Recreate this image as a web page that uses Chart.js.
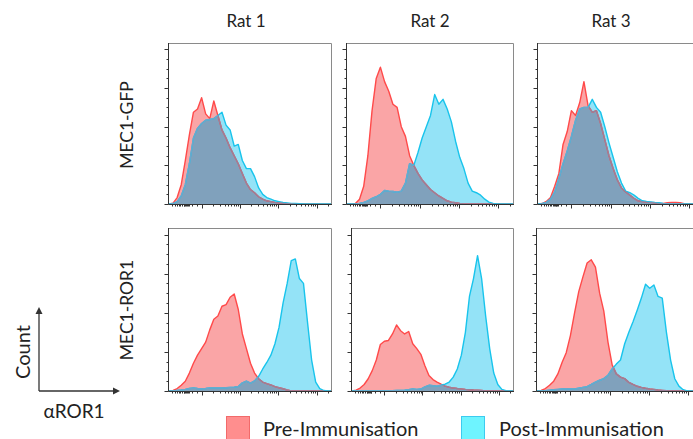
<!DOCTYPE html>
<html>
<head>
<meta charset="utf-8">
<title>αROR1 – MEC1 histograms</title>
<script src="https://cdn.jsdelivr.net/npm/chart.js"></script>
<style>
  body { margin:0; width:693px; height:439px; overflow:hidden; background:#fff; position:relative;
         font-family: Lato, "Open Sans", sans-serif; color:#222; }
  .panel { position:absolute; }
  .lbl { position:absolute; white-space:nowrap; line-height:1; transform:translate(-50%,-50%); }
  .rot { transform:translate(-50%,-50%) rotate(-90deg); }
  .title { font-size:17px; }
  .row { font-size:17.5px; }
  .swatch { position:absolute; width:22px; height:22px; border:1px solid; }
  .legend-text { position:absolute; font-size:20px; line-height:1; }
</style>
</head>
<body>
<!-- column + row titles -->
<div class="lbl title" style="left:246px;top:20px">Rat 1</div>
<div class="lbl title" style="left:430px;top:20px">Rat 2</div>
<div class="lbl title" style="left:611px;top:20px">Rat 3</div>
<div class="lbl row rot" style="left:127px;top:125px">MEC1-GFP</div>
<div class="lbl row rot" style="left:127px;top:310px">MEC1-ROR1</div>

<!-- axis key -->
<svg style="position:absolute;left:0;top:0" width="160" height="439">
  <g stroke="#333" stroke-width="1.3" fill="none">
    <line x1="39" y1="391" x2="39" y2="313"/>
    <line x1="39" y1="391" x2="114" y2="391"/>
  </g>
  <polygon points="39,307 35.5,314 42.5,314" fill="#333"/>
  <polygon points="120,391 113,387.5 113,394.5" fill="#333"/>
</svg>
<div class="lbl rot" style="left:22px;top:352px;font-size:20px">Count</div>
<div class="lbl" style="left:74px;top:410px;font-size:19px">αROR1</div>

<!-- legend -->
<div class="swatch" style="left:226px;top:416px;background:#ff8e8e;border-color:#f26a6a"></div>
<div class="legend-text" style="left:263px;top:418px">Pre-Immunisation</div>
<div class="swatch" style="left:461px;top:416px;background:#6ef4ff;border-color:#3ccbef"></div>
<div class="legend-text" style="left:499px;top:418px">Post-Immunisation</div>

<canvas id="p1" class="panel"></canvas>
<canvas id="p2" class="panel"></canvas>
<canvas id="p3" class="panel"></canvas>
<canvas id="p4" class="panel"></canvas>
<canvas id="p5" class="panel"></canvas>
<canvas id="p6" class="panel"></canvas>

<script>
// channel position along the αROR1 axis (0-100 % of the axis)
const xBins = [0, 2.5, 5, 7.5, 10, 12.5, 15, 17.5, 20, 22.5, 25, 27.5, 30, 32.5, 35, 37.5, 40, 42.5, 45, 47.5,
               50, 52.5, 55, 57.5, 60, 62.5, 65, 67.5, 70, 72.5, 75, 77.5, 80, 82.5, 85, 87.5, 90, 92.5, 95, 97.5, 100];

// counts, % of each panel's y range
const gfpRat1Pre  = [0, 0.5, 4, 12, 27, 43, 57, 59, 66, 56, 53, 64, 55, 46, 41, 35, 30, 25, 19, 13,
                     9, 7, 4.5, 3, 2, 1.5, 1, 0.7, 0.5, 0.3, 0.2, 0, 0, 0, 0, 0, 0, 0, 0, 0, 0];
const gfpRat1Post = [0, 0.3, 1.5, 5, 12, 25, 41, 47, 50, 52, 52.5, 53, 55, 57, 49, 46, 36, 37, 27, 22,
                     22, 17, 10, 6, 4, 3, 2, 1.5, 1, 0.7, 0.4, 0.3, 0.2, 0, 0, 0, 0, 0, 0, 0, 0];
const gfpRat2Pre  = [0, 0, 0.3, 3, 11, 30, 58, 78, 85, 76, 70, 62, 60, 48, 42, 30, 24, 19, 15, 12,
                     9, 7, 5, 3.5, 2, 1.2, 0.8, 0.3, 0, 0, 0, 0, 0, 0, 0, 0, 0, 0, 0, 0, 0];
const gfpRat2Post = [0, 0, 0, 0.3, 1, 2, 3.5, 4.5, 6, 8.4, 8, 7.8, 7.3, 8, 13, 25, 24, 32, 41, 48,
                     55, 68, 62, 65, 59, 51, 39, 29, 22, 13, 8, 7, 5.5, 3, 1.2, 0.3, 0, 0, 0, 0, 0];
const gfpRat3Pre  = [0, 0.3, 1.6, 4, 11, 19, 37, 45, 58, 55, 63, 76, 61, 57, 58, 50, 40, 30, 22, 15,
                     10, 7.5, 5.5, 3.5, 2, 1.5, 1.2, 1, 0.8, 0.5, 0.3, 0.8, 1, 1, 0.8, 0.2, 0, 0, 0, 0, 0];
const gfpRat3Post = [0, 0.3, 1, 3, 7.5, 16, 25, 33, 42, 52, 59, 60, 60, 65, 60, 57, 48, 38, 29, 20,
                     13, 8, 7, 5.5, 3.5, 2, 1.6, 1.3, 1, 0.8, 0.3, 0, 0, 0, 0, 0, 0, 0, 0, 0, 0];
const rorRat1Pre  = [0, 0.4, 1.5, 3.5, 6, 11, 17, 22, 26, 30, 37.5, 44, 46, 52, 53, 57.5, 59.5, 50, 35, 26,
                     17, 11, 7.5, 5.5, 4.5, 3.7, 2.7, 2, 1.4, 0.6, 0, 0, 0, 0, 0, 0, 0, 0, 0, 0, 0];
const rorRat1Post = [0, 0, 0.3, 0.6, 1, 1.5, 1.8, 1.5, 1.3, 1.5, 1.8, 1.8, 1.8, 1.8, 2, 2.2, 2.4, 2.8, 5, 6,
                     4.8, 6.2, 9, 13.5, 17.5, 22, 29, 39, 54, 66, 80, 81, 69, 66, 42, 19, 5.5, 1.5, 0.3, 0, 0];
const rorRat2Pre  = [0, 0.5, 1.8, 4, 7.5, 12.5, 19, 28.5, 30.5, 31, 35, 40.5, 37, 35, 36.5, 29, 26, 22.5, 15.5, 9.5,
                     7, 5.5, 4.2, 3, 2.3, 1.8, 1.5, 1.3, 1, 0.8, 0.6, 0.5, 0.3, 0, 0, 0, 0, 0, 0, 0, 0];
const rorRat2Post = [0, 0, 0, 0, 0, 0, 0, 0, 0, 0, 0.2, 0.3, 0.3, 0.5, 0.8, 1.2, 1, 1.2, 2.5, 3.5,
                     3.3, 3, 3.5, 4.2, 5.5, 8.5, 13.5, 22, 36, 58, 69, 83, 69, 46, 26, 11, 4, 1, 0.2, 0, 0];
const rorRat3Pre  = [0, 0.4, 1.5, 3.5, 6, 10.5, 17.5, 23.5, 34, 48, 61, 70, 78.5, 80.5, 76, 60, 49, 30, 16, 10.5,
                     8.5, 7.6, 5.3, 4, 2.9, 2.2, 1.7, 1.3, 1, 0.6, 0.4, 0.2, 0, 0, 0, 0, 0, 0, 0, 0, 0];
const rorRat3Post = [0, 0, 0.2, 0.5, 0.8, 1, 1.2, 1.4, 1.2, 1.2, 1.7, 2.2, 2.7, 4, 5.4, 6.6, 7.6, 9.7, 13.5, 16.5,
                     19, 29, 36, 42.5, 49.5, 57, 65.5, 63, 65, 58, 57, 36, 19, 7.5, 3, 0.8, 0, 0, 0, 0, 0];

// axis tick positions (same units as the data)
const xMajorTicks = [20, 43.5, 67, 90.5];
const xMinorTicks = [2, 3.5, 5, 6, 7, 8, 9, 9.5, 10, 10.5, 11, 11.5, 12, 14, 17,
                     27.1, 31.2, 34.1, 36.4, 38.3, 39.9, 41.2, 42.4,
                     50.6, 54.7, 57.6, 59.9, 61.8, 63.4, 64.7, 65.9,
                     74.1, 78.2, 81.1, 83.4, 85.3, 86.9, 88.2, 89.4, 97.6];
const yMajorTicks = [0, 24, 48, 72, 96];
const yMinorTicks = [6, 12, 18, 30, 36, 42, 54, 60, 66, 78, 84, 90];

const PRE_FILL = '#faa5a6', POST_FILL = '#94e3f7', OVERLAP = '#80a1bc';
const PRE_LINE = '#ff4a4a', POST_LINE = '#18c4ec';
const PRE_MUTED = '#9c7f98', POST_MUTED = '#6aa8cc';

// paints the shared area and the outlines the way the cytometry overlay does
const overlayPlugin = {
    id: 'overlay',
    afterDatasetsDraw(chart) {
        const ctx = chart.ctx, a = chart.chartArea;
        const base = chart.scales.y.getPixelForValue(0);
        const pre = chart.getDatasetMeta(0).data, post = chart.getDatasetMeta(1).data;
        const trace = (pts, closed) => {
            ctx.beginPath();
            pts.forEach((p, i) => i ? ctx.lineTo(p.x, p.y) : ctx.moveTo(p.x, p.y));
            if (closed) {
                ctx.lineTo(pts[pts.length - 1].x, base);
                ctx.lineTo(pts[0].x, base);
                ctx.closePath();
            }
        };
        ctx.save();
        ctx.beginPath(); ctx.rect(a.left, a.top, a.right - a.left, a.bottom - a.top); ctx.clip();
        ctx.save(); trace(post, true); ctx.clip(); trace(pre, true); ctx.fillStyle = OVERLAP; ctx.fill(); ctx.restore();
        ctx.lineWidth = 1.4; ctx.lineJoin = 'round';
        trace(pre, false); ctx.strokeStyle = PRE_LINE; ctx.stroke();
        trace(post, false); ctx.strokeStyle = POST_LINE; ctx.stroke();
        ctx.save(); trace(post, true); ctx.clip(); trace(pre, false); ctx.strokeStyle = PRE_MUTED; ctx.stroke(); ctx.restore();
        ctx.save(); trace(pre, true); ctx.clip(); trace(post, false); ctx.strokeStyle = POST_MUTED; ctx.stroke(); ctx.restore();
        ctx.restore();
    }
};

// box + log-style tick marks
const framePlugin = {
    id: 'frame',
    afterDraw(chart) {
        const ctx = chart.ctx, a = chart.chartArea, xs = chart.scales.x, ys = chart.scales.y;
        ctx.save();
        ctx.lineWidth = 1;
        ctx.strokeStyle = '#8a8a8a';
        ctx.beginPath();
        ctx.moveTo(a.left, a.top + 0.5); ctx.lineTo(a.right - 0.5, a.top + 0.5); ctx.lineTo(a.right - 0.5, a.bottom);
        ctx.stroke();
        ctx.strokeStyle = '#333';
        ctx.beginPath();
        ctx.moveTo(a.left - 0.5, a.top); ctx.lineTo(a.left - 0.5, a.bottom + 0.5); ctx.lineTo(a.right, a.bottom + 0.5);
        const bx = (v, len) => { const x = Math.round(xs.getPixelForValue(v)) + 0.5; ctx.moveTo(x, a.bottom + 0.5); ctx.lineTo(x, a.bottom + 0.5 + len); };
        const by = (v, len) => { const y = Math.round(ys.getPixelForValue(v)) + 0.5; ctx.moveTo(a.left - 0.5, y); ctx.lineTo(a.left - 0.5 - len, y); };
        xMajorTicks.forEach(v => bx(v, 4));
        xMinorTicks.forEach(v => bx(v, 2));
        yMajorTicks.forEach(v => by(v, 4));
        yMinorTicks.forEach(v => by(v, 2));
        ctx.stroke();
        ctx.restore();
    }
};

const panels = [
    { id: 'p1', left: 169, top: 43,  w: 163, h: 161, pre: gfpRat1Pre, post: gfpRat1Post },
    { id: 'p2', left: 347, top: 43,  w: 167, h: 161, pre: gfpRat2Pre, post: gfpRat2Post },
    { id: 'p3', left: 538, top: 43,  w: 167, h: 161, pre: gfpRat3Pre, post: gfpRat3Post },
    { id: 'p4', left: 169, top: 228, w: 163, h: 163, pre: rorRat1Pre, post: rorRat1Post },
    { id: 'p5', left: 352, top: 228, w: 162, h: 163, pre: rorRat2Pre, post: rorRat2Post },
    { id: 'p6', left: 537, top: 228, w: 167, h: 163, pre: rorRat3Pre, post: rorRat3Post }
];

const pad = { left: 6, top: 2, right: 2, bottom: 6 };
const toPoints = vals => xBins.map((x, i) => ({ x: x, y: vals[i] }));

panels.forEach(p => {
    const cv = document.getElementById(p.id);
    cv.width = p.w + pad.left + pad.right;
    cv.height = p.h + pad.top + pad.bottom;
    cv.style.left = (p.left - pad.left) + 'px';
    cv.style.top = (p.top - pad.top) + 'px';
    new Chart(cv.getContext('2d'), {
        type: 'line',
        data: {
            datasets: [
                { label: 'Pre-Immunisation', data: toPoints(p.pre), backgroundColor: PRE_FILL,
                  borderColor: 'rgba(0,0,0,0)', borderWidth: 1, fill: 'origin', pointRadius: 0, tension: 0 },
                { label: 'Post-Immunisation', data: toPoints(p.post), backgroundColor: POST_FILL,
                  borderColor: 'rgba(0,0,0,0)', borderWidth: 1, fill: 'origin', pointRadius: 0, tension: 0 }
            ]
        },
        options: {
            responsive: false,
            animation: false,
            devicePixelRatio: 1,
            layout: { padding: pad },
            plugins: { legend: { display: false }, tooltip: { enabled: false } },
            scales: {
                x: { type: 'linear', min: 0, max: 100, display: false },
                y: { min: 0, max: 100, display: false }
            }
        },
        plugins: [overlayPlugin, framePlugin]
    });
});
</script>
</body>
</html>
